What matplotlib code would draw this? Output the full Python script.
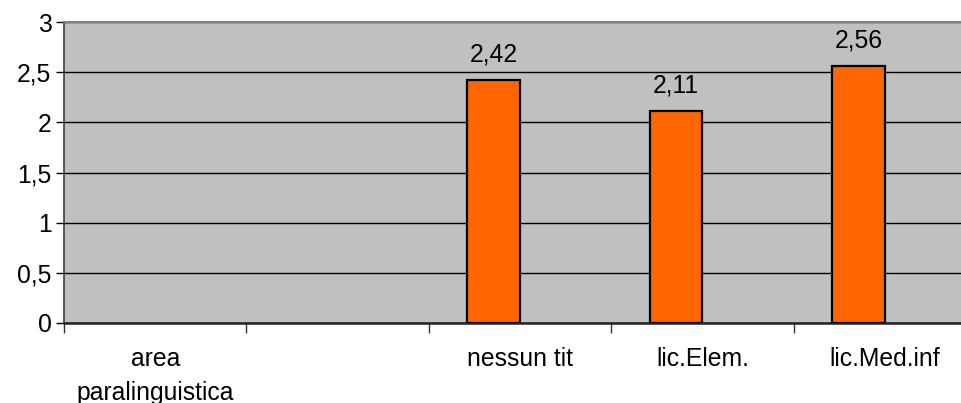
import matplotlib
matplotlib.use("Agg")
import matplotlib.pyplot as plt
from matplotlib.ticker import FuncFormatter, FixedLocator
import numpy as np

categories = ["area\nparalinguistica", "", "nessun tit", "lic.Elem.", "lic.Med.inf"]
values = [np.nan, np.nan, 2.42, 2.11, 2.56]
y_ticks = [0, 0.5, 1, 1.5, 2, 2.5, 3]

plt.rcParams["font.family"] = ["Liberation Sans", "DejaVu Sans"]
FS = 17.8

fig = plt.figure(figsize=(9.62, 4.03), dpi=100)
fig.patch.set_facecolor("white")
ax = fig.add_axes([64 / 962, 80 / 403, 912 / 962, 301 / 403])
ax.set_facecolor("#C0C0C0")

x = np.arange(len(categories))
width = 0.29
offset = -width / 2

ax.set_axisbelow(True)
ax.yaxis.grid(True, color="black", linewidth=1.0)
ax.bar(x + offset, values, width=width, color="#FF6600",
       edgecolor="black", linewidth=1.6, zorder=3)

def comma(v):
    return f"{v:.2f}".replace(".", ",")

for xi, v in zip(x, values):
    if not np.isnan(v):
        ax.annotate(comma(v), (xi + offset, v), xytext=(0, 10),
                    textcoords="offset points", ha="center", va="bottom",
                    fontsize=FS, color="black")

ax.set_xlim(-0.5, len(categories) - 0.5)
ax.set_ylim(0, 3)
ax.set_yticks(y_ticks)
ax.yaxis.set_major_formatter(FuncFormatter(
    lambda v, p: (f"{v:g}").replace(".", ",")))
ax.tick_params(axis="y", length=6, width=1, direction="out",
               labelsize=FS, pad=3, colors="black")

ax.set_xticks(x)
ax.set_xticklabels(categories, fontsize=FS, linespacing=1.55)
ax.tick_params(axis="x", which="major", length=0, pad=17)
ax.xaxis.set_minor_locator(FixedLocator(np.arange(-0.5, len(categories) + 0.5, 1)))
ax.tick_params(axis="x", which="minor", length=7, width=1, direction="out",
               color="#333333")

ax.spines["top"].set_color("#808080")
ax.spines["top"].set_linewidth(1.5)
ax.spines["right"].set_color("#808080")
ax.spines["left"].set_color("#404040")
ax.spines["left"].set_linewidth(1.2)
ax.spines["bottom"].set_color("#222222")
ax.spines["bottom"].set_linewidth(1.8)

fig.savefig("out.png", dpi=100, facecolor="white")
